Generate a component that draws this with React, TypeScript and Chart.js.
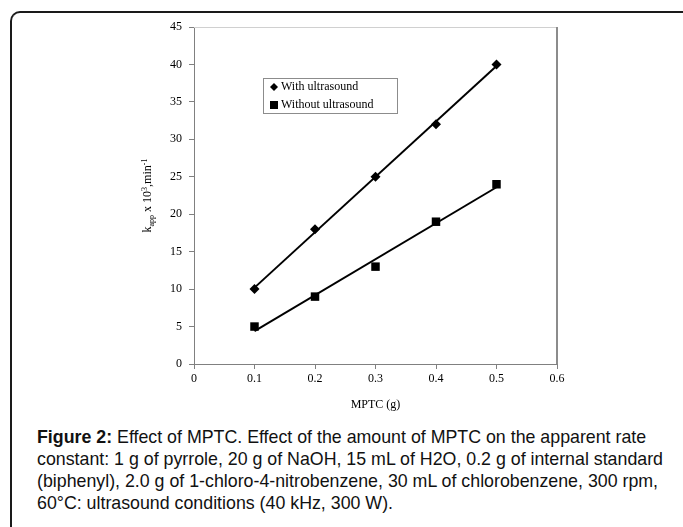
import React, { useEffect, useRef } from "react";
import { Chart, registerables } from "chart.js";

Chart.register(...registerables);

const mptc = [0.1, 0.2, 0.3, 0.4, 0.5];
const withUltrasound = [10, 18, 25, 32, 40];
const withoutUltrasound = [5, 9, 13, 19, 24];
const trendX = [0.1, 0.5];
const trendWith = [10.2, 39.8];
const trendWithout = [4.4, 23.6];
const xTickMax = 0.6;
const yTickMax = 45;

const SERIF = '"Liberation Serif", "Times New Roman", serif';

const decorPlugin = {
  id: "decor",
  afterDraw(chart: any) {
    const ctx = chart.ctx as CanvasRenderingContext2D;
    const a = chart.chartArea;
    ctx.save();
    // plot border top & right
    ctx.strokeStyle = "#d0d0d0";
    ctx.lineWidth = 1;
    ctx.beginPath();
    ctx.moveTo(a.left, a.top + 0.5);
    ctx.lineTo(a.right, a.top + 0.5);
    ctx.stroke();
    ctx.strokeStyle = "#8c8c8c";
    ctx.lineWidth = 2;
    ctx.beginPath();
    ctx.moveTo(a.right, a.top);
    ctx.lineTo(a.right, a.bottom);
    ctx.stroke();

    // x title
    ctx.fillStyle = "#000";
    ctx.font = `12px ${SERIF}`;
    ctx.textAlign = "center";
    ctx.textBaseline = "middle";
    ctx.fillText("MPTC (g)", (a.left + a.right) / 2, 405);

    // y title with sub/superscripts
    const segs: [string, number, number][] = [
      ["k", 12, 0],
      ["app", 8, 3],
      [" x 10", 12, 0],
      ["3", 8, -4],
      [",min", 12, 0],
      ["-1", 8, -4],
    ];
    let total = 0;
    for (const [t, s] of segs) {
      ctx.font = `${s}px ${SERIF}`;
      total += ctx.measureText(t).width;
    }
    ctx.translate(147, (a.top + a.bottom) / 2);
    ctx.rotate(-Math.PI / 2);
    ctx.textAlign = "left";
    ctx.textBaseline = "alphabetic";
    let cx = -total / 2;
    for (const [t, s, dy] of segs) {
      ctx.font = `${s}px ${SERIF}`;
      ctx.fillText(t, cx, 4 + dy);
      cx += ctx.measureText(t).width;
    }
    ctx.setTransform(1, 0, 0, 1, 0, 0);

    // legend box
    ctx.fillStyle = "#fff";
    ctx.fillRect(263, 78, 134, 35);
    ctx.strokeStyle = "#8c8c8c";
    ctx.lineWidth = 1;
    ctx.strokeRect(263.5, 78.5, 134, 35);
    const items = chart.data.datasets.filter((d: any) => d.inLegend);
    items.forEach((d: any, i: number) => {
      const my = 87 + i * 18;
      const mx = 274;
      ctx.fillStyle = "#000";
      ctx.beginPath();
      if (d.pointStyle === "rectRot") {
        ctx.moveTo(mx, my - 4);
        ctx.lineTo(mx + 4, my);
        ctx.lineTo(mx, my + 4);
        ctx.lineTo(mx - 4, my);
        ctx.closePath();
        ctx.fill();
      } else {
        ctx.fillRect(mx - 4, my - 4, 8, 8);
      }
      ctx.font = `12px ${SERIF}`;
      ctx.textAlign = "left";
      ctx.textBaseline = "middle";
      ctx.fillText(d.label, 281, my);
    });
    ctx.restore();
  },
};

export default function App() {
  const ref = useRef<HTMLCanvasElement>(null);
  useEffect(() => {
    if (!ref.current) return;
    const chart = new Chart(ref.current, {
      type: "scatter",
      data: {
        datasets: [
          {
            label: "With ultrasound",
            inLegend: true,
            data: mptc.map((x, i) => ({ x, y: withUltrasound[i] })),
            pointStyle: "rectRot",
            pointRadius: 5,
            backgroundColor: "#000",
            borderColor: "#000",
            borderWidth: 0,
            showLine: false,
            order: 0,
          } as any,
          {
            label: "Without ultrasound",
            inLegend: true,
            data: mptc.map((x, i) => ({ x, y: withoutUltrasound[i] })),
            pointStyle: "rect",
            pointRadius: 6,
            backgroundColor: "#000",
            borderColor: "#000",
            borderWidth: 0,
            showLine: false,
            order: 0,
          } as any,
          {
            label: "trend1",
            data: trendX.map((x, i) => ({ x, y: trendWith[i] })),
            showLine: true,
            pointRadius: 0,
            borderColor: "#000",
            borderWidth: 2,
            order: 1,
          },
          {
            label: "trend2",
            data: trendX.map((x, i) => ({ x, y: trendWithout[i] })),
            showLine: true,
            pointRadius: 0,
            borderColor: "#000",
            borderWidth: 2,
            order: 1,
          },
        ],
      },
      options: {
        animation: false,
        responsive: false,
        devicePixelRatio: 1,
        layout: { padding: { top: 27, right: 126, left: 0, bottom: 0 } },
        plugins: { legend: { display: false }, tooltip: { enabled: false } },
        scales: {
          x: {
            type: "linear",
            min: 0,
            max: xTickMax,
            afterFit: (s: any) => {
              s.height = 56;
            },
            ticks: {
              stepSize: 0.1,
              padding: 3,
              color: "#000",
              font: { family: SERIF, size: 12 },
              callback: (v: any) => (Number(v) === 0 ? "0" : Number(v).toFixed(1)),
            },
            grid: { drawOnChartArea: false, drawTicks: true, tickLength: 5, color: "#808080" },
            border: { color: "#808080", width: 1 },
          },
          y: {
            type: "linear",
            min: 0,
            max: yTickMax,
            afterFit: (s: any) => {
              s.width = 194;
            },
            ticks: {
              stepSize: 5,
              padding: 7,
              color: "#000",
              font: { family: SERIF, size: 12 },
            },
            grid: { drawOnChartArea: false, drawTicks: true, tickLength: 5, color: "#808080" },
            border: { color: "#808080", width: 1 },
          },
        },
      },
      plugins: [decorPlugin],
    });
    return () => chart.destroy();
  }, []);

  return (
    <div
      style={{
        position: "fixed",
        left: 0,
        top: 0,
        width: 683,
        height: 527,
        overflow: "hidden",
        background: "#fff",
      }}
    >
      <div
        style={{
          position: "absolute",
          left: 10,
          top: 11,
          width: 900,
          height: 900,
          borderTop: "2px solid #1a1a1a",
          borderLeft: "2px solid #1a1a1a",
          borderTopLeftRadius: 10,
          boxSizing: "border-box",
        }}
      />
      <canvas
        ref={ref}
        width={683}
        height={420}
        style={{ position: "absolute", left: 0, top: 0, width: 683, height: 420 }}
      />
      <div
        style={{
          position: "absolute",
          left: 37,
          top: 426,
          fontFamily: '"Liberation Sans", Arial, sans-serif',
          fontSize: 17.8,
          lineHeight: "22px",
          color: "#111",
          whiteSpace: "nowrap",
        }}
      >
        <b>Figure 2:</b> Effect of MPTC. Effect of the amount of MPTC on the apparent rate
        <br />
        constant: 1 g of pyrrole, 20 g of NaOH, 15 mL of H2O, 0.2 g of internal standard
        <br />
        (biphenyl), 2.0 g of 1-chloro-4-nitrobenzene, 30 mL of chlorobenzene, 300 rpm,
        <br />
        60°C: ultrasound conditions (40 kHz, 300 W).
      </div>
    </div>
  );
}
